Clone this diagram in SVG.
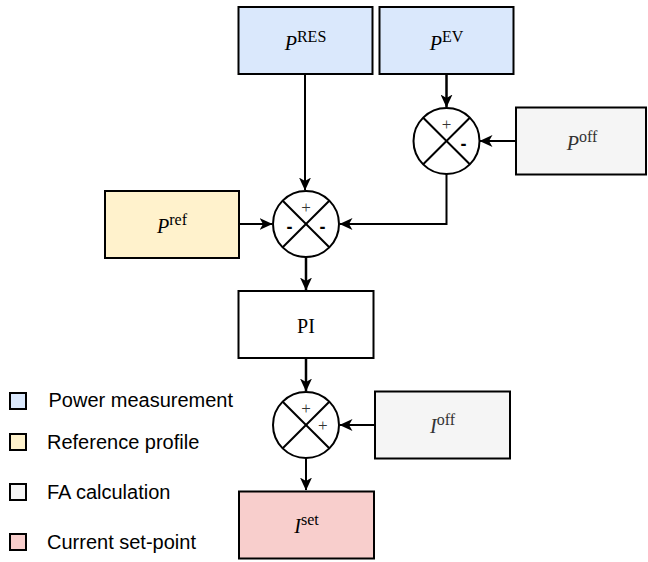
<svg xmlns="http://www.w3.org/2000/svg" width="648" height="562" viewBox="0 0 648 562">
<style>
.box{stroke:#000;stroke-width:2}
.blue{fill:#dae8fc}.yellow{fill:#fff2cc}.gray{fill:#f5f5f5}.red{fill:#f8cecc}.white{fill:#fff}
.lbl{font-family:"Liberation Serif","Times New Roman",serif;font-size:20px;fill:#000;text-anchor:middle}
.lbl.g{fill:#333}
.it{font-style:italic}
.sup{font-size:16px}
.sum{fill:#fff;stroke:#000;stroke-width:2}
.x{stroke:#000;stroke-width:2}
.plus{font-family:"Liberation Serif","Times New Roman",serif;font-size:17px;fill:#333;text-anchor:middle}
.minus{font-family:"Liberation Sans",Arial,sans-serif;font-size:18px;font-weight:bold;fill:#000;text-anchor:middle}
.leg{font-family:"Liberation Sans",Arial,sans-serif;font-size:20px;fill:#000}
.conn{fill:none;stroke:#000;stroke-width:2;marker-end:url(#arr)}
.conn.thick{stroke-width:2.5}
</style>
<defs>
<marker id="arr" markerUnits="userSpaceOnUse" markerWidth="13" markerHeight="12" viewBox="0 0 13 12" refX="12.5" refY="6" orient="auto">
<path d="M0,0 L13,6 L0,12 L3.5,6 Z" fill="#000"/>
</marker>
</defs>

<g id="connectors">
<path class="conn" d="M305,74 L305,190"/>
<path class="conn thick" d="M446.5,74 L446.5,107"/>
<path class="conn" d="M516,141 L480,141"/>
<path class="conn" d="M446.5,174 L446.5,224 L340,224"/>
<path class="conn" d="M239,224 L272,224"/>
<path class="conn thick" d="M306,257 L306,290"/>
<path class="conn thick" d="M306,358 L306,391"/>
<path class="conn" d="M375,425 L340,425"/>
<path class="conn" d="M306,458 L306,490"/>
</g>

<g id="node-pres">
<rect class="box blue" x="238.5" y="7" width="134" height="67"/>
<text class="lbl" x="305.5" y="49.5"><tspan class="it">P</tspan><tspan class="sup" dy="-8">RES</tspan></text>
</g>
<g id="node-pev">
<rect class="box blue" x="379.5" y="7" width="134" height="67"/>
<text class="lbl" x="446.5" y="49.5"><tspan class="it">P</tspan><tspan class="sup" dy="-8">EV</tspan></text>
</g>
<g id="node-poff">
<rect class="box gray" x="516" y="107.5" width="130" height="67"/>
<text class="lbl g" x="582" y="149.5"><tspan class="it">P</tspan><tspan class="sup" dy="-8">off</tspan></text>
</g>
<g id="node-pref">
<rect class="box yellow" x="105" y="191" width="134" height="67"/>
<text class="lbl" x="172" y="233"><tspan class="it">P</tspan><tspan class="sup" dy="-8">ref</tspan></text>
</g>
<g id="node-pi">
<rect class="box white" x="238.5" y="291" width="135" height="67"/>
<text class="lbl" x="306" y="332.5">PI</text>
</g>
<g id="node-ioff">
<rect class="box gray" x="375" y="391.5" width="135" height="67"/>
<text class="lbl g" x="442.5" y="433"><tspan class="it">I</tspan><tspan class="sup" dy="-8">off</tspan></text>
</g>
<g id="node-iset">
<rect class="box red" x="239" y="491.5" width="135" height="67"/>
<text class="lbl" x="306.5" y="533"><tspan class="it">I</tspan><tspan class="sup" dy="-8">set</tspan></text>
</g>

<g id="sum-ev">
<circle class="sum" cx="446.5" cy="141" r="33"/>
<line class="x" x1="423.2" y1="117.7" x2="469.8" y2="164.3"/>
<line class="x" x1="469.8" y1="117.7" x2="423.2" y2="164.3"/>
<text class="plus" x="446.5" y="130">+</text>
<text class="minus" x="463.5" y="150">-</text>
</g>
<g id="sum-main">
<circle class="sum" cx="306" cy="224" r="33"/>
<line class="x" x1="282.7" y1="200.7" x2="329.3" y2="247.3"/>
<line class="x" x1="329.3" y1="200.7" x2="282.7" y2="247.3"/>
<text class="plus" x="306" y="213">+</text>
<text class="minus" x="289.5" y="233">-</text>
<text class="minus" x="322.5" y="233">-</text>
</g>
<g id="sum-i">
<circle class="sum" cx="306" cy="425" r="33"/>
<line class="x" x1="282.7" y1="401.7" x2="329.3" y2="448.3"/>
<line class="x" x1="329.3" y1="401.7" x2="282.7" y2="448.3"/>
<text class="plus" x="306" y="414">+</text>
<text class="plus" x="322.7" y="431">+</text>
</g>

<g id="legend">
<rect class="box blue" x="10" y="393" width="16" height="16"/>
<text class="leg" x="48.5" y="407">Power measurement</text>
<rect class="box yellow" x="10" y="434" width="16" height="16"/>
<text class="leg" x="47" y="449">Reference profile</text>
<rect class="box gray" x="10" y="484" width="16" height="16"/>
<text class="leg" x="47" y="499">FA calculation</text>
<rect class="box red" x="10" y="534" width="16" height="16"/>
<text class="leg" x="47" y="549">Current set-point</text>
</g>
</svg>
